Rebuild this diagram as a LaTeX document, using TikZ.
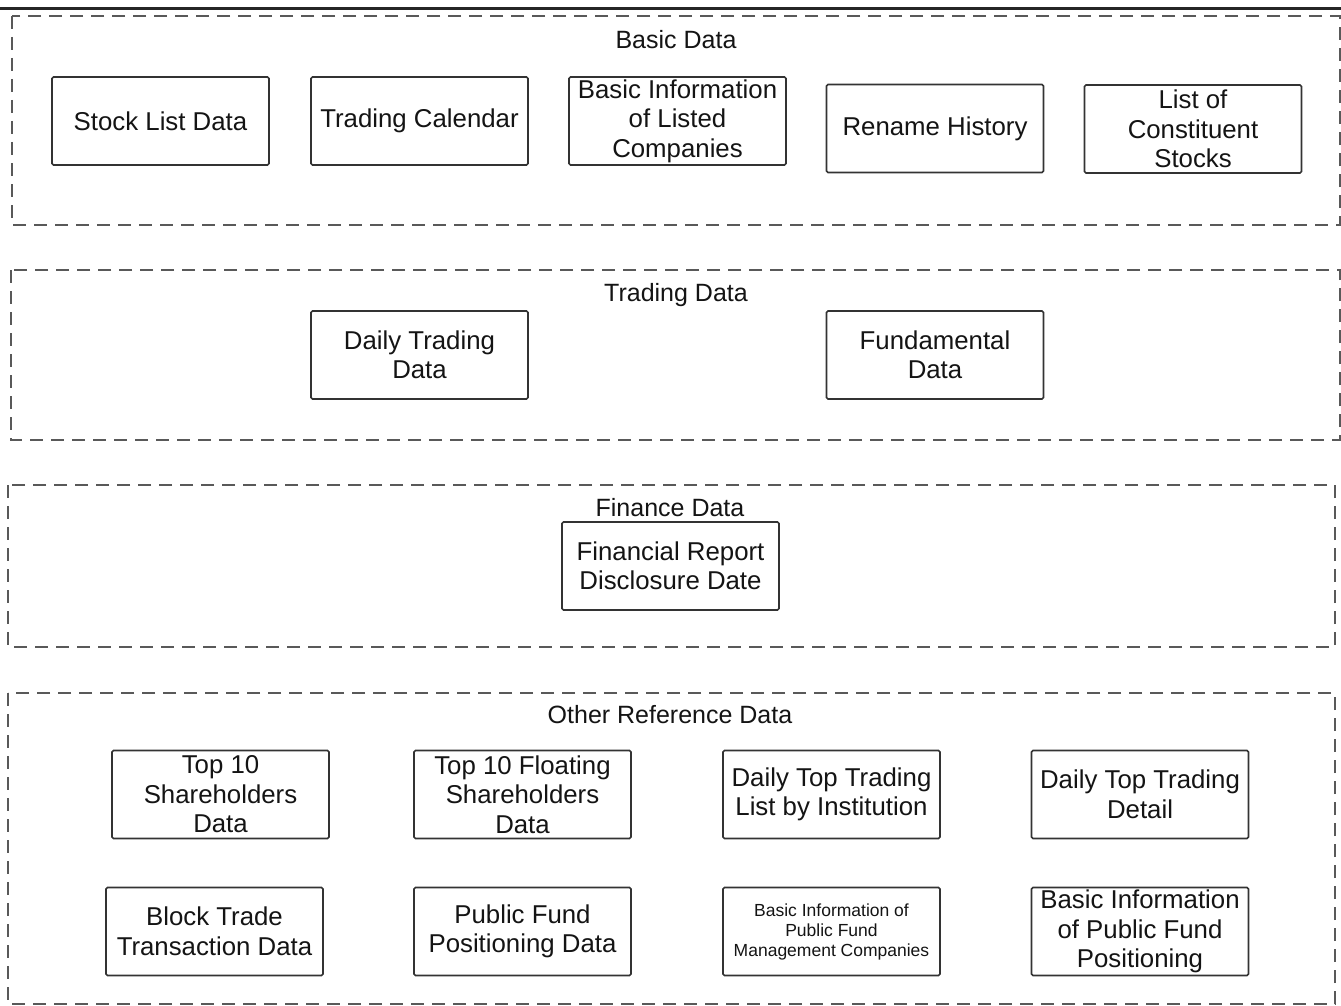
\documentclass[tikz,border=0pt]{standalone}
\usepackage{fontspec}
\setmainfont{Liberation Sans}
\begin{document}
\begin{tikzpicture}[x=1pt,y=-1pt,
  grp/.style={draw=black!65, line width=1.8pt, dash pattern=on 13pt off 8pt},
  item/.style={draw=black!80, line width=1.6pt, rounded corners=1.5pt, minimum width=217pt, minimum height=88pt, inner sep=0pt, align=center, text=black!92, font=\fontsize{25.8}{29.5}\selectfont},
  small/.style={item, font=\fontsize{17.5}{20}\selectfont},
  ttl/.style={text=black!92, font=\fontsize{25}{29}\selectfont, inner sep=0pt}]
\useasboundingbox (0,0) rectangle (1341,1006);
\fill[white] (0,0) rectangle (1341,1006);
% top rule
\draw[line width=3pt, black!85] (0,9) -- (1341,9);
% group frames
\draw[grp] (12,16) rectangle (1340,225);
\draw[grp] (11,270) rectangle (1340,440);
\draw[grp] (8,485) rectangle (1335,647);
\draw[grp] (8,693) rectangle (1335,1004);
% titles
\node[ttl] (t1) at (676,40) {Basic Data};
\node[ttl] (t2) at (676,295) {Trading Data};
\node[ttl] (t3) at (670,508) {Finance Data};
\node[ttl] (t4) at (670,715) {Other Reference Data};
% basic data
\node[item] (sld) at (160.5,121) {Stock List Data};
\node[item] (tc) at (419.5,121) {Trading Calendar};
\node[item] (bi) at (677.5,121) {Basic Information\\of Listed\\Companies};
\node[item] (rh) at (935,128.5) {Rename History};
\node[item] (lcs) at (1193,129) {List of\\Constituent\\Stocks};
% trading data
\node[item] (dtd) at (419.5,355) {Daily Trading\\Data};
\node[item] (fd) at (935,355) {Fundamental\\Data};
% finance data
\node[item] (frd) at (670.5,566) {Financial Report\\Disclosure Date};
% other reference data
\node[item] (t10) at (220.5,794.5) {Top 10\\Shareholders\\Data};
\node[item] (t10f) at (522.5,794.5) {Top 10 Floating\\Shareholders\\Data};
\node[item] (dtl) at (831.5,794.5) {Daily Top Trading\\List by Institution};
\node[item] (dtdet) at (1140,794.5) {Daily Top Trading\\Detail};
\node[item] (btd) at (214.5,931.5) {Block Trade\\Transaction Data};
\node[item] (pfp) at (522.5,931.5) {Public Fund\\Positioning Data};
\node[small] (bipfm) at (831.5,931.5) {Basic Information of\\Public Fund\\Management Companies};
\node[item] (bipfp) at (1140,931.5) {Basic Information\\of Public Fund\\Positioning};
\end{tikzpicture}
\end{document}
